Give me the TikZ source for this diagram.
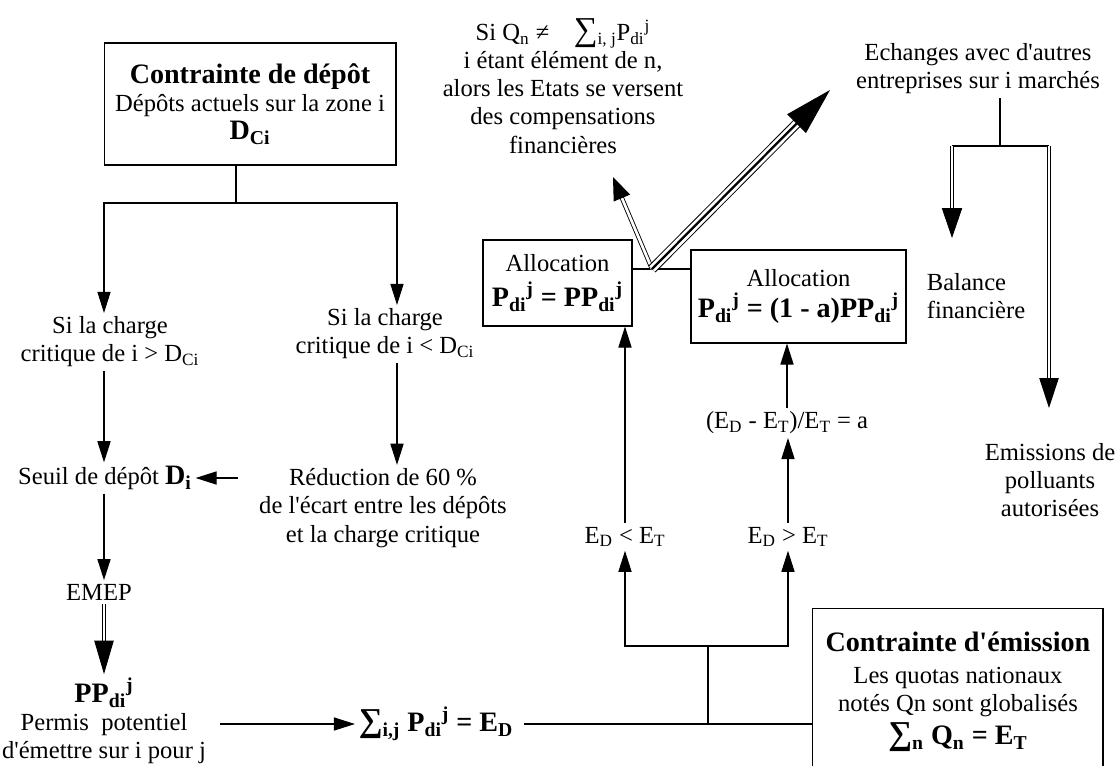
\documentclass[tikz,border=0pt]{standalone}
\usepackage{fontspec}
\setmainfont{Liberation Serif}[Ligatures=TeXOff]
\usetikzlibrary{arrows.meta,calc}

\begin{document}
\begin{tikzpicture}[x=0.02cm,y=-0.02cm,
    every node/.style={font=\fontsize{14}{16}\selectfont, align=center, inner sep=2pt},
    big/.style={font=\fontsize{16}{19}\selectfont\bfseries},
    box/.style={draw, line width=0.6pt},
    ln/.style={line width=0.6pt},
    arr/.style={line width=0.6pt, -{Triangle[length=12pt,width=7.5pt]}},
    dbl/.style={line width=0.5pt, double, double distance=1.5pt},
    dhead/.style 2 args={line width=0.5pt, -{Triangle[length=#1,width=#2]}}]
	\useasboundingbox (0,0) rectangle (1117,765);
	\clip (0,0) rectangle (1117,765);
	
	% Contrainte de depot
	\node[box, minimum width=5.84cm, minimum height=2.44cm] (depot) at (250,104)
		{{\fontsize{16}{19}\selectfont\bfseries Contrainte de dépôt}\\Dépôts actuels sur la zone i\\{\fontsize{16}{19}\selectfont\bfseries D\textsubscript{Ci}}};
	\coordinate (split) at (236,203);
	\coordinate (colL) at (104,0);
	\coordinate (colR) at (397,0);
	
	\node (hi) at (110,342) {Si la charge\\critique de i > D\textsubscript{Ci}};
	\node (lo) at (385,334) {Si la charge\\critique de i < D\textsubscript{Ci}};
	\node (seuil) at (105,478) {Seuil de dépôt {\fontsize{16}{19}\selectfont\bfseries D\textsubscript{i}}};
	\node (reduc) at (383,508) {Réduction de 60 \%\\de l'écart entre les dépôts\\et la charge critique};
	\node (emep) at (99,592) {EMEP};
	\node (pp) at (104,721) {{\fontsize{16}{19}\selectfont\bfseries PP\textsubscript{di}\textsuperscript{j}}\\Permis\ \ potentiel\\d'émettre sur i pour j};
	\node[big] (sumd) at (436,724) {{\fontsize{19}{19}\selectfont ∑}\textsubscript{i,j} P\textsubscript{di}\textsuperscript{j} = E\textsubscript{D}};
	
	\draw[ln] (depot.south -| split) -- (split);
	\draw[arr] (split) -| (hi.north -| colL);
	\draw[arr] (split) -| (lo.north -| colR);
	\draw[arr] (hi.south -| colL) -- (seuil.north -| colL);
	\draw[arr] (lo.south -| colR) -- (reduc.north -| colR);
	\draw[arr, shorten <=10pt] (reduc.west |- seuil) -- (seuil.east);
	\draw[arr] (seuil.south -| colL) -- (emep.north -| colL);
	\draw[dbl, shorten >=18pt] (emep.south -| colL) -- (pp.north -| colL);
	\draw[dhead={19pt}{11pt}] ($(pp.north -| colL)!19pt!(emep.south -| colL)$) -- (pp.north -| colL);
	\draw[arr, shorten <=6pt] (pp.east |- sumd) -- (sumd.west);
	
	% Contrainte d'emission
	\node[box, minimum width=5.82cm, minimum height=3.9cm, anchor=north] (emis) at (957.5,608) {};
	\node (emistxt) at (958,692) {{\fontsize{16}{19}\selectfont\bfseries Contrainte d'émission}\\[2pt]Les quotas nationaux\\notés Qn sont globalisés\\[3pt]{\fontsize{16}{19}\selectfont\bfseries {\fontsize{19}{19}\selectfont ∑}\textsubscript{n} Q\textsubscript{n} = E\textsubscript{T}}};
	\draw[ln, shorten <=4pt] (sumd.east) -- (sumd.east -| emis.west);
	
	% E_D / E_T
	\coordinate (fork) at (708,646);
	\node (edlt) at (625,537) {E\textsubscript{D} < E\textsubscript{T}};
	\node (edgt) at (788,537) {E\textsubscript{D} > E\textsubscript{T}};
	\node (ratio) at (787,423) {(E\textsubscript{D} - E\textsubscript{T})/E\textsubscript{T} = a};
	\draw[ln] (fork |- sumd) -- (fork);
	\draw[arr] (fork) -| (edlt.south);
	\draw[arr] (fork) -| (edgt.south);
	
	% Allocations
	\node[box, minimum width=2.98cm, minimum height=1.72cm] (lalloc) at (557.5,283)
		{Allocation\\[4pt]{\fontsize{16}{19}\selectfont\bfseries P\textsubscript{di}\textsuperscript{j} = PP\textsubscript{di}\textsuperscript{j}}};
	\node[box, minimum width=4.3cm, minimum height=1.86cm] (ralloc) at (798.5,296.5)
		{Allocation\\[2pt]{\fontsize{16}{19}\selectfont\bfseries P\textsubscript{di}\textsuperscript{j} = (1 - a)PP\textsubscript{di}\textsuperscript{j}}};
	\draw[arr] (edlt.north) -- (edlt.north |- lalloc.south);
	\draw[arr] (edgt.north) -- (edgt.north |- ratio.south);
	\draw[arr] (ratio.north) -- (ratio.north |- ralloc.south);
	\coordinate (jn) at (652,269);
	\draw[ln] (lalloc.east |- jn) -- (ralloc.west |- jn);
	
	% Compensations et echanges
	\node (comp) at (563,86) {Si Q\textsubscript{n} ≠\quad {\fontsize{19}{16}\selectfont ∑}\textsubscript{i, j}P\textsubscript{di}\textsuperscript{j}\\i étant élément de n,\\alors les Etats se versent\\des compensations\\financières};
	\coordinate (qtip) at (613,177);
	\coordinate (etip) at (830,90);
	\draw[dbl, shorten >=12pt] (jn) -- (qtip);
	\draw[dhead={13pt}{10pt}] ($(qtip)!13pt!(jn)$) -- (qtip);
	\draw[line width=0.55pt, double, double distance=4.4pt, shorten >=24pt] (jn) -- (etip);
	\draw[line width=1.3pt, shorten >=24pt] (jn) -- (etip);
	\draw[dhead={27pt}{15pt}] ($(etip)!26pt!(jn)$) -- (etip);
	
	\node (ech) at (978,69) {Echanges avec d'autres\\entreprises sur i marchés};
	\node[anchor=west, align=left] (bal) at (923,296) {Balance\\financière};
	\node (emisn) at (1050,480) {Emissions de\\polluants\\autorisées};
	\coordinate (trade) at (1000,146);
	\coordinate (tl) at (952,146);
	\coordinate (tr) at (1049,146);
	\coordinate (baltip) at (952,238);
	\coordinate (emtip) at (1049,408);
	\draw[ln] (ech.south -| trade) -- (trade);
	\draw[ln] (tl) -- (tr);
	\draw[dbl, shorten >=16pt] (tl) -- (baltip);
	\draw[dhead={17pt}{11.5pt}] ($(baltip)!17pt!(tl)$) -- (baltip);
	\draw[dbl, shorten >=16pt] (tr) -- (emtip);
	\draw[dhead={17pt}{11pt}] ($(emtip)!17pt!(tr)$) -- (emtip);
\end{tikzpicture}
\end{document}
